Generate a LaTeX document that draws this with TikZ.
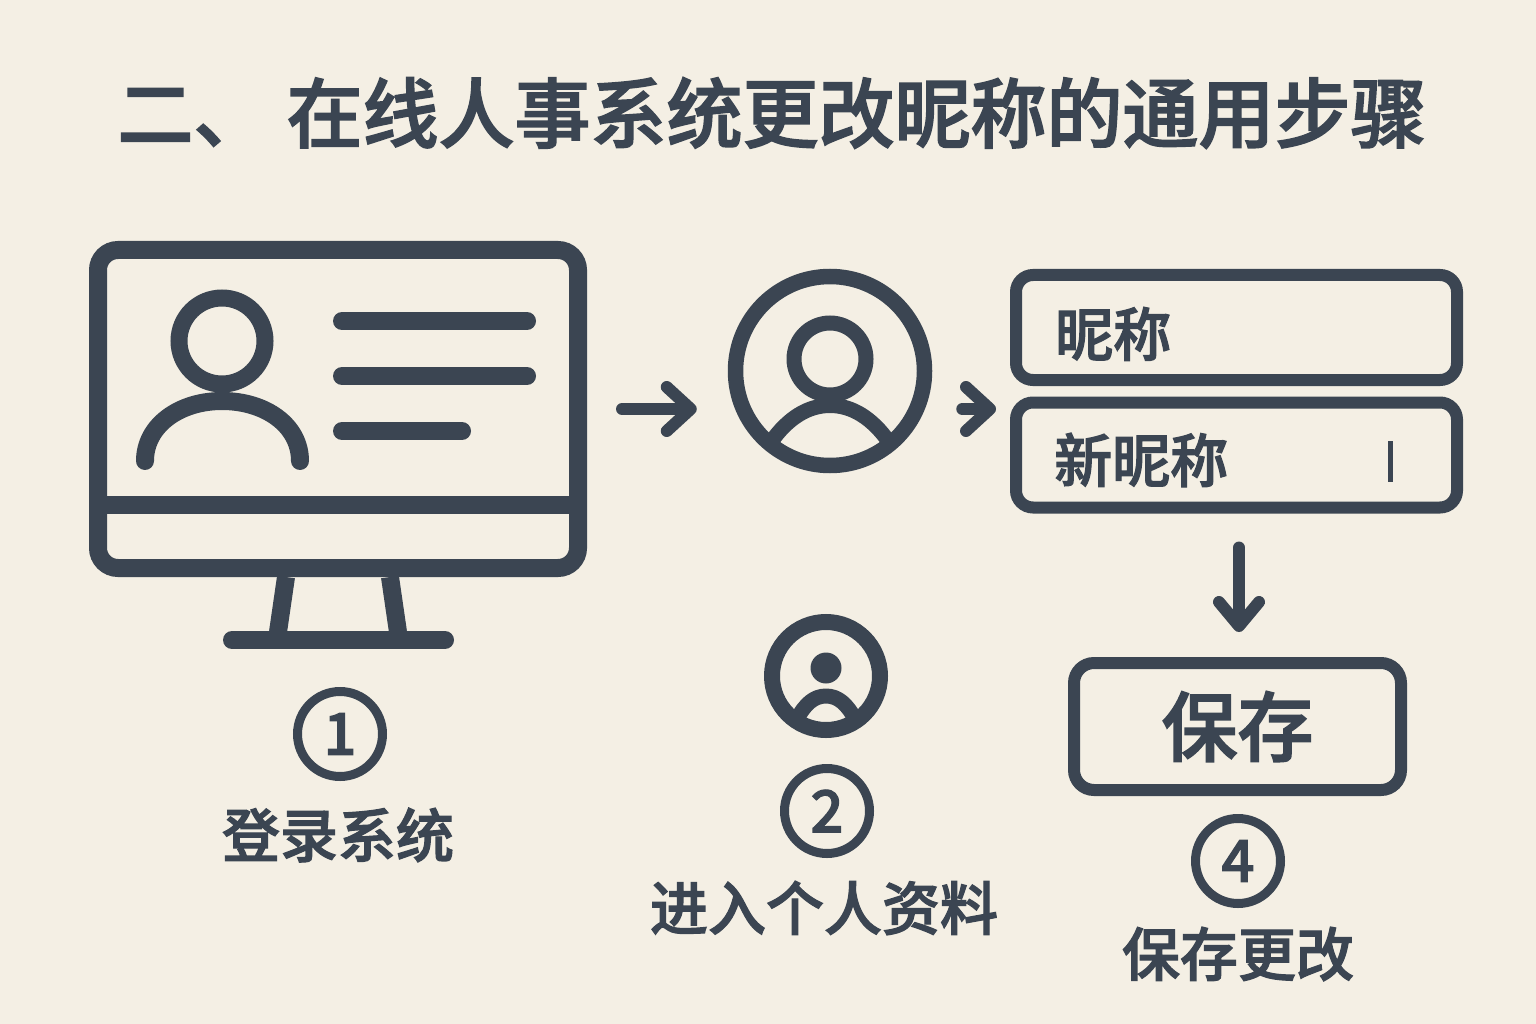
\documentclass[tikz,border=0pt]{standalone}
\usepackage{fontspec}
\setmainfont{Noto Sans CJK SC}[BoldFont={Noto Sans CJK SC Medium},BoldFeatures={FakeBold=2}]
\usetikzlibrary{positioning,arrows.meta}
\definecolor{ink}{HTML}{3B4552}
\definecolor{paper}{HTML}{F4EFE4}
\tikzset{
    iconline/.style={draw=ink, line width=#1, line cap=round, line join=round},
    fieldbox/.style={draw=ink, line width=12pt, rounded corners=17pt, minimum width=441pt, minimum height=105pt},
    stepbadge/.style={circle, draw=ink, line width=9pt, minimum size=85pt, inner sep=0pt, text=ink, font=\fontsize{58}{58}\selectfont\bfseries},
    steplabel/.style={text=ink, inner sep=0pt, font=\fontsize{58}{58}\selectfont\bfseries},
    flowarrow/.style={draw=ink, line width=12pt, line cap=round, -{Straight Barb[round, length=24pt, width=#1, line width=12pt]}},
    flowarrow/.default=44pt,
}
\begin{document}
\begin{tikzpicture}[x=1pt, y=-1pt]
\fill[paper] (0,0) rectangle (1536,1024);
\useasboundingbox (0,0) rectangle (1536,1024);

\node (title) [text=ink, inner sep=0pt, font=\fontsize{76}{76}\selectfont\bfseries] at (772,113) {二、 在线人事系统更改昵称的通用步骤};

% monitor
\node (monitor) [draw=ink, line width=18pt, rounded corners=20pt, minimum width=480pt, minimum height=318pt, inner sep=0pt] at (338,409) {};
\draw [iconline=18pt, line cap=butt] (monitor.west |- 0,505) -- (monitor.east |- 0,505);
\coordinate (baseleft) at (232,640);
\coordinate (baseright) at (445,640);
\draw [iconline=18pt] (baseleft) -- (baseright);
\draw [iconline=18pt, line cap=butt] (286,577) -- (278,632);
\draw [iconline=18pt, line cap=butt] (390,577) -- (398,632);
\node (head) [circle, draw=ink, line width=17pt, minimum size=86pt, inner sep=0pt] at (222,341) {};
\draw [iconline=18pt] (145,461) .. controls (145,425) and (180,401) .. (222,401) .. controls (265,401) and (300,425) .. (300,461);
\foreach \y/\xend in {321/527, 376/527, 431/462}
    \draw [iconline=18pt] (342,\y) -- (\xend,\y);

% profile
\node (avatar) [circle, draw=ink, line width=15.5pt, minimum size=189pt, inner sep=0pt] at (830,371) {};
\node (avatarhead) [circle, draw=ink, line width=15pt, minimum size=72pt, inner sep=0pt] at (830,359) {};
\draw [iconline=15pt, line cap=butt] (771,442) .. controls (788,418) and (808,405.5) .. (830,405.5) .. controls (852,405.5) and (872,418) .. (889,442);

% small profile
\node (badgeicon) [circle, draw=ink, line width=16pt, minimum size=108pt, inner sep=0pt] at (826,676) {};
\node (badgehead) [circle, fill=ink, minimum size=31pt, inner sep=0pt] at (826,668) {};
\draw [iconline=15pt, line cap=butt] (797,719) .. controls (805,704) and (814,696) .. (826,696) .. controls (838,696) and (847,704) .. (855,719);

% form
\node (nickbox) [fieldbox] at (1236.5,327.5) {};
\node (newbox) [fieldbox] at (1236.5,455) {};
\node (nicktext) [steplabel, anchor=west] at (1055,334) {昵称};
\node (newtext) [steplabel, anchor=west] at (1054,460) {新昵称};
\coordinate (cursortop) at (1390,441);
\coordinate (cursorbottom) at (1390,482);
\draw [draw=ink, line width=5pt] (cursortop) -- (cursorbottom);
\node (savebtn) [draw=ink, line width=12pt, rounded corners=20pt, minimum width=327pt, minimum height=127pt, text=ink, font=\fontsize{76}{76}\selectfont\bfseries] at (1237.5,726.5) {保存};

% steps
\node (stepa) [stepbadge] at (340,734) {1};
\node (stepb) [stepbadge] at (827,811) {2};
\node (stepd) [stepbadge] at (1238,861) {4};
\node (labela) [steplabel] at (338,835) {登录系统};
\node (labelb) [steplabel] at (824,908) {进入个人资料};
\node (labeld) [steplabel] at (1238,954) {保存更改};

% arrows
\draw [flowarrow, shorten <=35pt, shorten >=31pt] (monitor.east) -- (monitor.east -| avatar.west);
\draw [flowarrow, shorten <=30pt, shorten >=14pt] (avatar.east |- monitor.east) -- (nickbox.south west |- monitor.east);
\draw [flowarrow=40pt, shorten <=34pt, shorten >=25pt] (newbox.south -| 1239,0) -- (savebtn.north -| 1239,0);
\end{tikzpicture}
\end{document}
